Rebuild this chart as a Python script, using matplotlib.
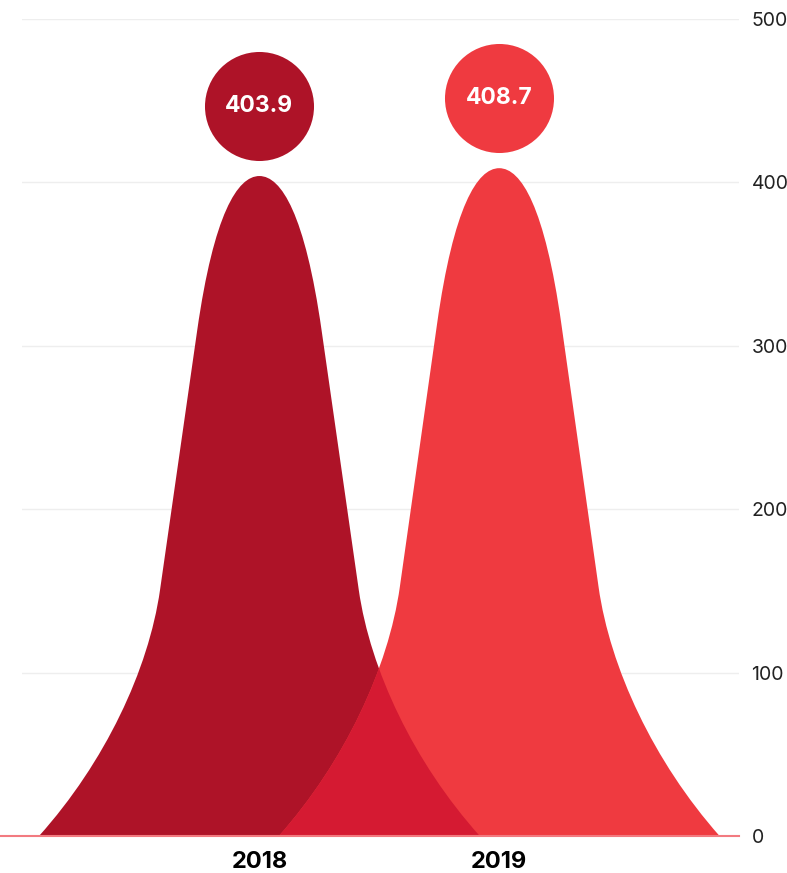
import matplotlib
matplotlib.use("Agg")
import matplotlib.pyplot as plt
import matplotlib.transforms as mtransforms
from matplotlib.path import Path
from matplotlib.patches import PathPatch

plt.rcParams['font.family'] = ['Inter', 'DejaVu Sans']

# data
years = ['2018', '2019']
values = [403.9, 408.7]
colors = ['#AE1328', '#EF3A40']
overlap_color = '#D51A32'
yticks = [0, 100, 200, 300, 400, 500]

HALF = 0.919  # half width of a bell, in category units

# normalized bell outline, left half: (code, (d, h)); d across (-1..0), h up (0..1)
left_half = [
    (Path.MOVETO, (-1.0, 0.0)),
    (Path.CURVE4, (-0.701, 0.1114)),
    (Path.CURVE4, (-0.503, 0.2518)),
    (Path.CURVE4, (-0.451, 0.3727)),
    (Path.LINETO, (-0.282, 0.7667)),
    (Path.CURVE4, (-0.207, 0.9417)),
    (Path.CURVE4, (-0.10, 1.0)),
    (Path.CURVE4, (0.0, 1.0)),
]


def bell_path(x0, v):
    codes = [c for c, _ in left_half]
    pts = [p for _, p in left_half]
    # mirror for the right half (walk back down)
    for k in range(len(left_half) - 2, -1, -1):
        codes.append(left_half[k + 1][0])
        d, h = left_half[k][1]
        pts.append((-d, h))
    verts = [(x0 + d * HALF, v * h) for d, h in pts]
    verts.append(verts[0])
    codes.append(Path.CLOSEPOLY)
    return Path(verts, codes)


fig = plt.figure(figsize=(7.87, 8.73), dpi=100)
ax = fig.add_axes([22 / 787, 37 / 873, 717 / 787, 817 / 873])

patches = []
for i, v in enumerate(values):
    p = PathPatch(bell_path(i, v), facecolor=colors[i], edgecolor='none', zorder=2)
    ax.add_patch(p)
    patches.append(p)

# overlap of the two bells
ov = PathPatch(bell_path(0, values[0]), facecolor=overlap_color, edgecolor='none', zorder=3)
ax.add_patch(ov)
ov.set_clip_path(patches[1])

# value bubbles above each peak
trans = ax.transData + mtransforms.ScaledTranslation(0, 0.70, fig.dpi_scale_trans)
for i, v in enumerate(values):
    ax.scatter([i], [v], s=78.5 ** 2, color=colors[i], transform=trans,
               zorder=5, linewidths=0, clip_on=False)
    ax.text(i, v, f'{v:.1f}', transform=trans, ha='center', va='center',
            color='white', fontsize=16.5, fontweight='bold', zorder=6)

ax.set_xlim(-0.99, 2.0)
ax.set_ylim(0, 500)

ax.set_yticks(yticks)
ax.yaxis.tick_right()
ax.tick_params(axis='y', length=0, pad=9, labelsize=14, labelcolor='#222222')
for t in yticks[1:]:
    ax.axhline(t, color='#EEEEEE', lw=1, zorder=1)
ax.plot([-1.1, 2.0], [0, 0], color='#F27A80', lw=1.5, zorder=4, clip_on=False)

ax.set_xticks(range(len(years)))
ax.set_xticklabels(years, fontsize=17, fontweight='bold')
ax.tick_params(axis='x', length=0, pad=11)

for s in ax.spines.values():
    s.set_visible(False)

fig.savefig('out.png', dpi=100)
